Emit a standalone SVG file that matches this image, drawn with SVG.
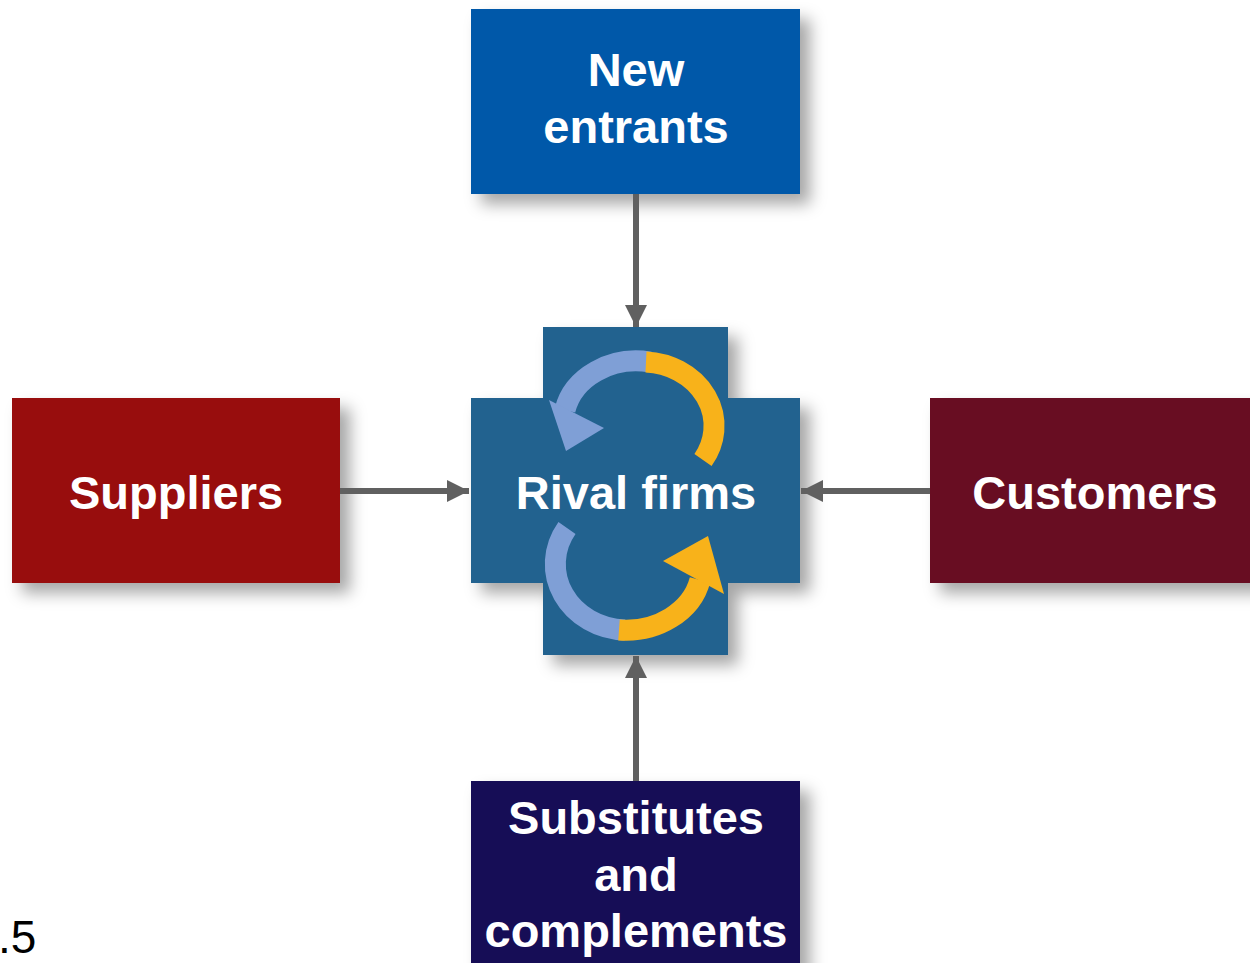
<svg xmlns="http://www.w3.org/2000/svg" width="1250" height="963" viewBox="0 0 1250 963">
<style>
.lbl{font-family:"Liberation Sans",Arial,sans-serif;font-weight:bold;font-size:47px;fill:#fff;text-anchor:middle}
.con{stroke:#606060;stroke-width:6;fill:none}
.blue{stroke:#7f9fd6;stroke-width:21;fill:none}
.yel{stroke:#f8b21a;stroke-width:21;fill:none}
</style>
<defs>
<filter id="sh" x="-20%" y="-20%" width="150%" height="150%">
<feDropShadow dx="10" dy="10" stdDeviation="8" flood-color="#000" flood-opacity="0.35"/>
</filter>
<marker id="ah" markerUnits="userSpaceOnUse" markerWidth="24" markerHeight="24" refX="22" refY="11" orient="auto" viewBox="0 0 24 22">
<path d="M0,0 L22,11 L0,22 Z" fill="#606060"/>
</marker>
</defs>
<rect width="1250" height="963" fill="#fff"/>
<g id="new-entrants">
<rect x="471" y="9" width="329" height="185" fill="#0058a9" filter="url(#sh)"/>
<text class="lbl" x="636" y="86">New</text>
<text class="lbl" x="636" y="143">entrants</text>
</g>
<g id="suppliers">
<rect x="12" y="398" width="328" height="185" fill="#980b0f" filter="url(#sh)"/>
<text class="lbl" x="176" y="509">Suppliers</text>
</g>
<g id="customers">
<rect x="930" y="398" width="330" height="185" fill="#680d22" filter="url(#sh)"/>
<text class="lbl" x="1095" y="509">Customers</text>
</g>
<g id="substitutes">
<rect x="471" y="781" width="329" height="200" fill="#170b56" filter="url(#sh)"/>
<text class="lbl" x="636" y="834">Substitutes</text>
<text class="lbl" x="636" y="891">and</text>
<text class="lbl" x="636" y="947">complements</text>
</g>
<g id="rival-firms">
<path d="M543,327 H728 V398 H800 V583 H728 V655 H543 V583 H471 V398 H543 Z" fill="#24628f" filter="url(#sh)"/>
<path class="blue" d="M650,362 A73,62 0 0 0 565,410"/>
<polygon points="549,400 604,428 566,451" fill="#7f9fd6"/>
<path class="yel" d="M646,362 A72,64 0 0 1 703,460"/>
<path class="blue" d="M567,528 A72,66 0 0 0 625,630"/>
<path class="yel" d="M619,630 A76,64 0 0 0 700,580"/>
<polygon points="663,561 708,536 724,594" fill="#f8b21a"/>
<text class="lbl" x="636" y="509">Rival firms</text>
</g>
<g id="connectors">
<line class="con" x1="636" y1="194" x2="636" y2="327" marker-end="url(#ah)"/>
<line class="con" x1="340" y1="491" x2="469" y2="491" marker-end="url(#ah)"/>
<line class="con" x1="930" y1="491" x2="801" y2="491" marker-end="url(#ah)"/>
<line class="con" x1="636" y1="781" x2="636" y2="656" marker-end="url(#ah)"/>
</g>
<text x="-2" y="953" style="font-family:'Liberation Sans',Arial,sans-serif;font-size:46px;fill:#000">.5</text>
</svg>
